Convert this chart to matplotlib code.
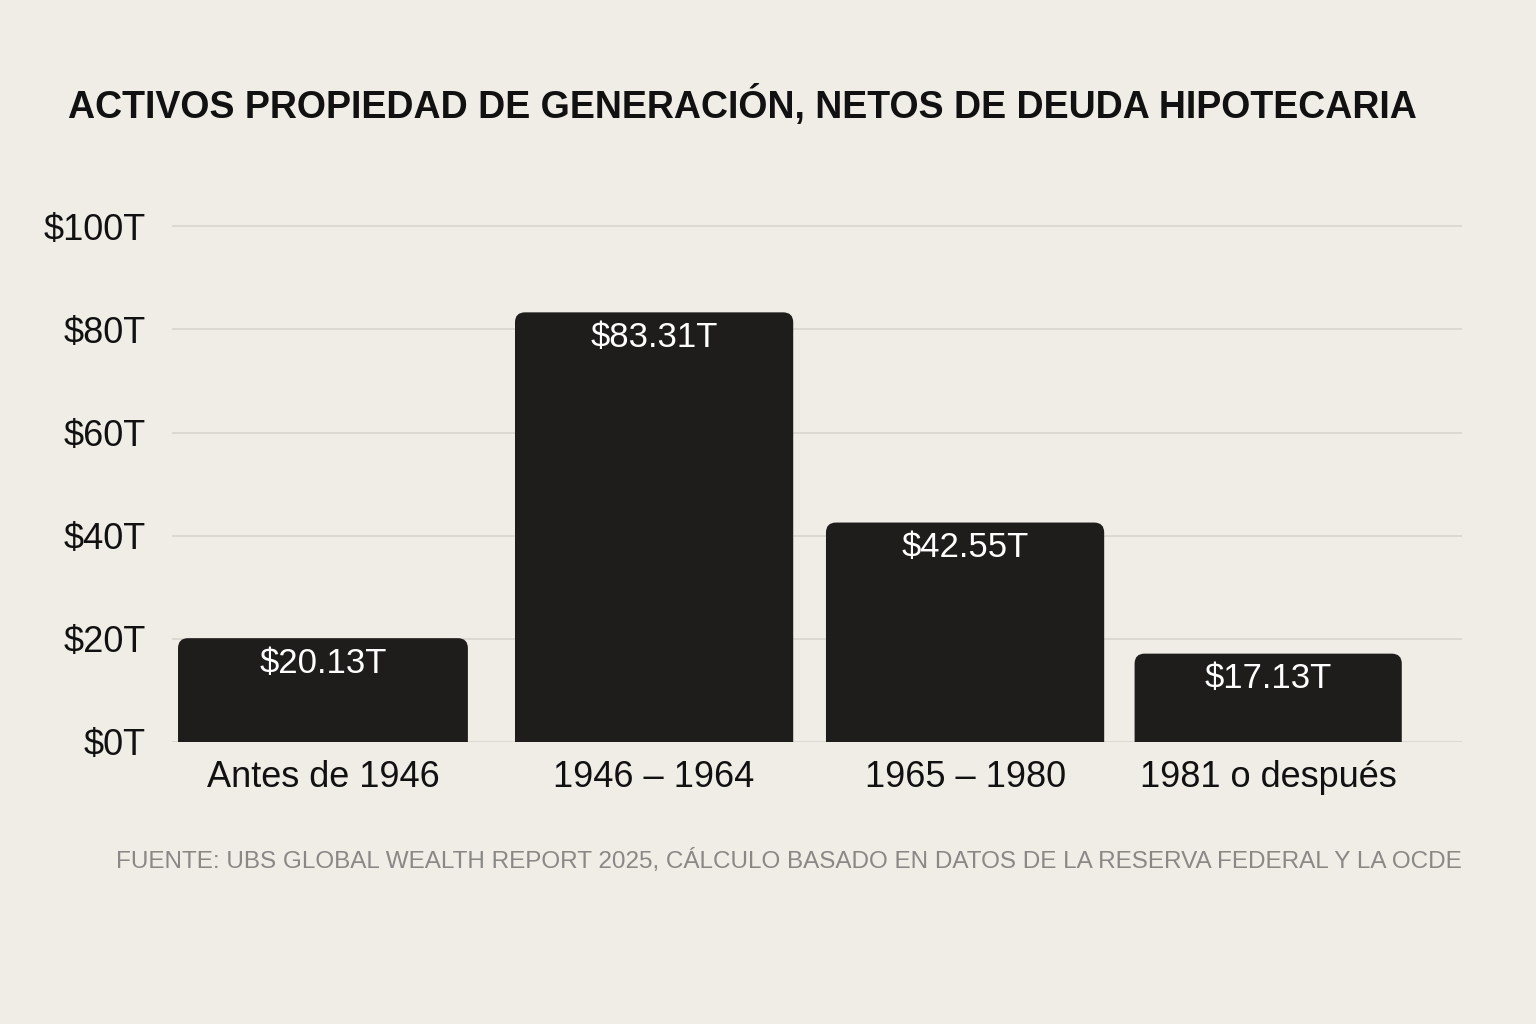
import matplotlib.pyplot as plt
from matplotlib.patches import FancyBboxPatch
import numpy as np

# data
categories = ["Antes de 1946", "1946 – 1964", "1965 – 1980", "1981 o después"]
values = [20.13, 83.31, 42.55, 17.13]
yticks = [0, 20, 40, 60, 80, 100]

title = "ACTIVOS PROPIEDAD DE GENERACIÓN, NETOS DE DEUDA HIPOTECARIA"
source = ("FUENTE: UBS GLOBAL WEALTH REPORT 2025, CÁLCULO BASADO EN DATOS "
          "DE LA RESERVA FEDERAL Y LA OCDE")

# layout (bars in the original are not evenly spaced)
xpos = [0, 1.051, 2.038, 3.0]
widths = [0.92, 0.883, 0.883, 0.848]

bg = "#f0ece6"
bar_color = "#1f1d1b"
grid_color = "#dad6d0"

plt.rcParams['font.family'] = ['Liberation Sans', 'DejaVu Sans']

fig = plt.figure(figsize=(15.36, 10.24), dpi=100, facecolor=bg)
ax = fig.add_axes([0.112, 0.2754, 0.84, 0.5137])
ax.set_facecolor(bg)

xmin, xmax = -0.479, 3.616
ymin, ymax = 0, 102
ax.set_xlim(xmin, xmax)
ax.set_ylim(ymin, ymax)

# pixel scale per data unit, for rounded corners
px_x = 0.84 * 1536 / (xmax - xmin)
px_y = 0.5137 * 1024 / (ymax - ymin)
aspect = px_x / px_y
r = 10 / px_x

for y in yticks:
    ax.axhline(y, color=grid_color, lw=1.3, zorder=0)

# bars: rounded box that starts below zero, so the axes clip away the lower corners
for x, w, v in zip(xpos, widths, values):
    box = FancyBboxPatch((x - w / 2, -5), w, v + 5,
                         boxstyle="round,pad=0,rounding_size=%f" % r,
                         mutation_aspect=aspect, fc=bar_color, ec='none', zorder=2)
    ax.add_patch(box)
    ax.annotate("$%.2fT" % v, (x, v), xytext=(0, -18), textcoords='offset points',
                ha='center', va='center', color='white', fontsize=25, zorder=3)

ax.set_yticks(yticks)
ax.set_yticklabels(["$%dT" % t for t in yticks])
ax.set_xticks(xpos)
ax.set_xticklabels(categories)
ax.tick_params(axis='y', length=0, pad=19, labelsize=26, labelcolor='#111111')
ax.tick_params(axis='x', length=0, pad=13, labelsize=26, labelcolor='#111111')
for s in ax.spines.values():
    s.set_visible(False)

fig.text(68 / 1536, 1 - 105 / 1024, title, fontsize=27, fontweight='bold',
         ha='left', va='center', color='#111111')
fig.text(1462 / 1536, 1 - 861 / 1024, source, fontsize=17.5,
         ha='right', va='center', color='#8a8886')

fig.savefig("out.png", dpi=100, facecolor=bg)
